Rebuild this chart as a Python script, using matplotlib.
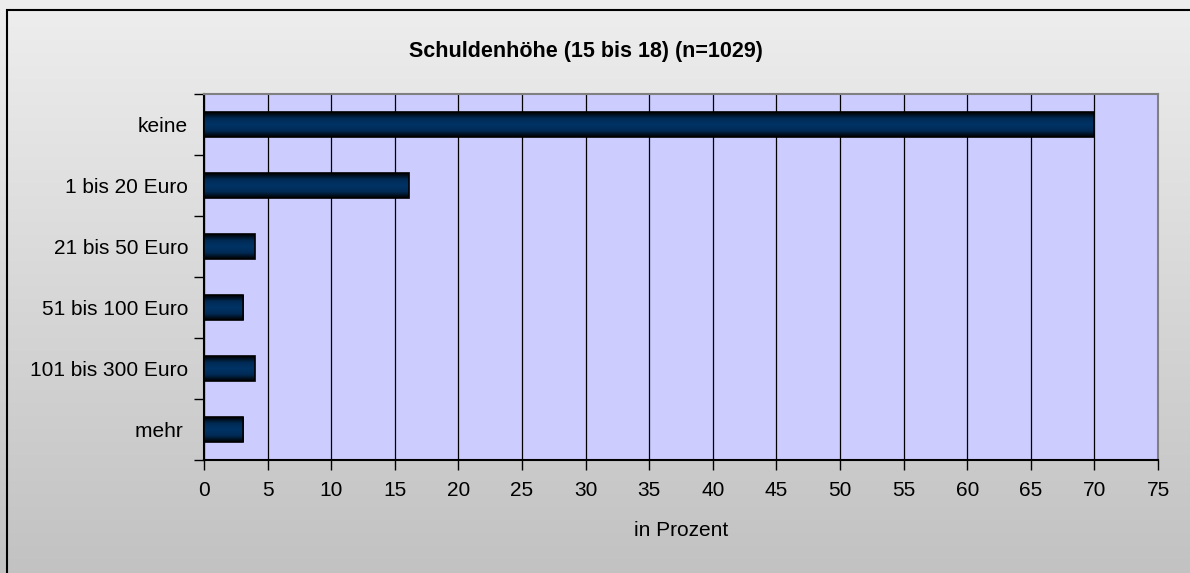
import numpy as np
import matplotlib
matplotlib.use('Agg')
import matplotlib.pyplot as plt
from matplotlib.patches import Rectangle

plt.rcParams['font.family'] = ['Liberation Sans', 'DejaVu Sans']

# data
categories = ['keine', '1 bis 20 Euro', '21 bis 50 Euro', '51 bis 100 Euro',
              '101 bis 300 Euro', 'mehr ']
values = [70.0, 16.1, 4.0, 3.1, 4.0, 3.1]
xticks = list(range(0, 80, 5))
title = 'Schuldenhöhe (15 bis 18) (n=1029)'
xlabel = 'in Prozent'

W, H = 1190, 573
fig = plt.figure(figsize=(W / 100, H / 100), dpi=100)

# background with vertical grey gradient, frame only on left and top
bg = fig.add_axes([0, 0, 1, 1])
grad = np.linspace(0, 1, 256).reshape(-1, 1)
bg.imshow(grad, extent=[0, 1, 0, 1], aspect='auto', origin='upper',
          cmap=matplotlib.colors.LinearSegmentedColormap.from_list('bg', ['#eeeeee', '#c2c2c2']),
          interpolation='bicubic')
bg.plot([7 / W, 7 / W, 1.0], [0.0, 1 - 10 / H, 1 - 10 / H], color='black',
        linewidth=1.5, solid_joinstyle='miter')
bg.set_xlim(0, 1)
bg.set_ylim(0, 1)
bg.axis('off')

ax = fig.add_axes([204 / W, (H - 460) / H, 954 / W, 366 / H])
ax.set_facecolor('#ccccff')

y = np.arange(len(categories))
bar_h = 0.4
bar_cmap = matplotlib.colors.LinearSegmentedColormap.from_list(
    'bar', ['#000000', '#002a55', '#003366', '#002a55', '#000000'])
bgrad = np.linspace(0, 1, 64).reshape(-1, 1)
for yi, v in zip(y, values):
    ax.imshow(bgrad, extent=[0, v, yi + bar_h / 2, yi - bar_h / 2], aspect='auto',
              cmap=bar_cmap, interpolation='bicubic', zorder=3)
    ax.add_patch(Rectangle((0, yi - bar_h / 2), v, bar_h, fill=False,
                           edgecolor='black', linewidth=1.2, zorder=4))

ax.set_xlim(0, 75)
ax.set_ylim(len(categories) - 0.5, -0.5)
ax.set_aspect('auto')

ax.set_xticks(xticks)
ax.set_xticklabels([str(t) for t in xticks], fontsize=15)
ax.set_yticks(y)
ax.set_yticklabels(categories, fontsize=15)
ax.tick_params(axis='y', which='major', length=0, pad=11.5)
ax.set_yticks(np.arange(-0.5, len(categories)), minor=True)
ax.tick_params(axis='y', which='minor', length=7, width=1, direction='out')
ax.tick_params(axis='x', which='major', length=7, width=1, direction='out', pad=8)

ax.grid(axis='x', color='black', linewidth=0.9, zorder=1)
ax.set_axisbelow(True)

ax.spines['top'].set_color('#808080')
ax.spines['right'].set_color('#808080')
for s in ax.spines.values():
    s.set_linewidth(1.5)

fig.text(586 / W, 1 - 52 / H, title, ha='center', va='center',
         fontsize=15.5, fontweight='bold')
fig.text(681 / W, 1 - 530 / H, xlabel, ha='center', va='center', fontsize=15)

fig.savefig('out.png', dpi=100)
plt.close()
